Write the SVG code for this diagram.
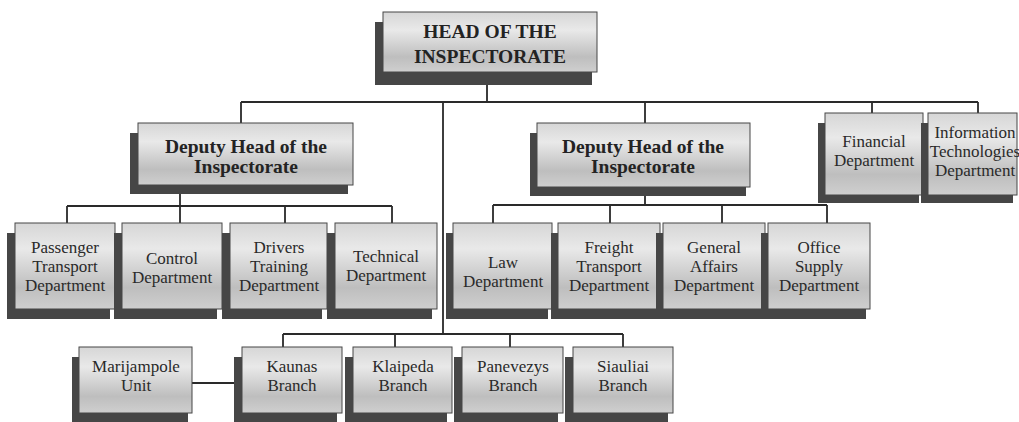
<svg xmlns="http://www.w3.org/2000/svg" width="1019" height="422" viewBox="0 0 1019 422">
<defs>
<linearGradient id="g" x1="0" y1="0" x2="0" y2="1">
<stop offset="0" stop-color="#d6d6d6"/>
<stop offset="0.3" stop-color="#e9e9e9"/>
<stop offset="0.75" stop-color="#bebebe"/>
<stop offset="1" stop-color="#cfcfcf"/>
</linearGradient>
</defs>
<style>
.sh{fill:#464646}
.bx{fill:url(#g);stroke:#474747;stroke-width:1}
.t{font-family:"Liberation Serif","Times New Roman",serif;font-size:17px;fill:#2a2a2a;text-anchor:middle}
.b{font-family:"Liberation Serif","Times New Roman",serif;font-size:19.5px;font-weight:bold;fill:#232323;text-anchor:middle}
.c{fill:none;stroke:#2a2a2a;stroke-width:1.8}
</style>
<rect width="1019" height="422" fill="#ffffff"/>
<g id="connectors">
<path class="c" d="M487 84V102M241 102H978M241 102V123M645 102V123M872 102V113M978 102V113M443 102V334"/>
<path class="c" d="M180 194V206M67 206H392M67 206V223M180 206V223M285 206V223M392 206V223"/>
<path class="c" d="M645 196V205M493 205H827M493 205V223M610 205V223M722 205V223M827 205V223"/>
<path class="c" d="M283 334H623M283 334V347M395 334V347M510 334V347M623 334V347M192 383H242"/>
</g>
<g id="head"><rect class="sh" x="375" y="22" width="217" height="63"/><rect class="bx" x="383" y="12" width="214" height="60"/><text class="b" x="490" y="38">HEAD OF THE</text><text class="b" x="490" y="63">INSPECTORATE</text></g>
<g id="deputy1"><rect class="sh" x="130" y="133" width="218" height="61"/><rect class="bx" x="138" y="123" width="215" height="62"/><text class="b" x="246" y="153">Deputy Head of the</text><text class="b" x="246" y="173">Inspectorate</text></g>
<g id="deputy2"><rect class="sh" x="530" y="133" width="216" height="63"/><rect class="bx" x="537" y="123" width="213" height="64"/><text class="b" x="643" y="153">Deputy Head of the</text><text class="b" x="643" y="173">Inspectorate</text></g>
<g id="financial"><rect class="sh" x="818" y="123" width="101" height="80"/><rect class="bx" x="825" y="113" width="98" height="82"/><text class="t" x="874" y="147">Financial</text><text class="t" x="874" y="166">Department</text></g>
<g id="it"><rect class="sh" x="921" y="123" width="92" height="80"/><rect class="bx" x="928" y="113" width="89" height="82"/><text class="t" x="975" y="138">Information</text><text class="t" x="975" y="157">Technologies</text><text class="t" x="975" y="176">Department</text></g>
<g id="passenger"><rect class="sh" x="7" y="233" width="103" height="86"/><rect class="bx" x="15" y="223" width="100" height="86"/><text class="t" x="65" y="253">Passenger</text><text class="t" x="65" y="272">Transport</text><text class="t" x="65" y="291">Department</text></g>
<g id="control"><rect class="sh" x="114" y="233" width="103" height="86"/><rect class="bx" x="122" y="223" width="100" height="86"/><text class="t" x="172" y="264">Control</text><text class="t" x="172" y="283">Department</text></g>
<g id="drivers"><rect class="sh" x="222" y="233" width="100" height="86"/><rect class="bx" x="230" y="223" width="97" height="86"/><text class="t" x="279" y="253">Drivers</text><text class="t" x="279" y="272">Training</text><text class="t" x="279" y="291">Department</text></g>
<g id="technical"><rect class="sh" x="327" y="233" width="105" height="86"/><rect class="bx" x="335" y="223" width="102" height="86"/><text class="t" x="386" y="262">Technical</text><text class="t" x="386" y="281">Department</text></g>
<g id="law"><rect class="sh" x="446" y="233" width="102" height="86"/><rect class="bx" x="453" y="223" width="99" height="86"/><text class="t" x="503" y="268">Law</text><text class="t" x="503" y="287">Department</text></g>
<g id="freight"><rect class="sh" x="551" y="233" width="105" height="86"/><rect class="bx" x="558" y="223" width="102" height="86"/><text class="t" x="609" y="253">Freight</text><text class="t" x="609" y="272">Transport</text><text class="t" x="609" y="291">Department</text></g>
<g id="general"><rect class="sh" x="656" y="233" width="105" height="86"/><rect class="bx" x="663" y="223" width="102" height="86"/><text class="t" x="714" y="253">General</text><text class="t" x="714" y="272">Affairs</text><text class="t" x="714" y="291">Department</text></g>
<g id="office"><rect class="sh" x="761" y="233" width="105" height="86"/><rect class="bx" x="768" y="223" width="102" height="86"/><text class="t" x="819" y="253">Office</text><text class="t" x="819" y="272">Supply</text><text class="t" x="819" y="291">Department</text></g>
<g id="marijampole"><rect class="sh" x="72" y="357" width="116" height="66"/><rect class="bx" x="79" y="347" width="113" height="66"/><text class="t" x="136" y="372">Marijampole</text><text class="t" x="136" y="391">Unit</text></g>
<g id="kaunas"><rect class="sh" x="234" y="357" width="103" height="66"/><rect class="bx" x="242" y="347" width="100" height="66"/><text class="t" x="292" y="372">Kaunas</text><text class="t" x="292" y="391">Branch</text></g>
<g id="klaipeda"><rect class="sh" x="345" y="357" width="102" height="66"/><rect class="bx" x="353" y="347" width="99" height="66"/><text class="t" x="403" y="372">Klaipeda</text><text class="t" x="403" y="391">Branch</text></g>
<g id="panevezys"><rect class="sh" x="454" y="357" width="104" height="66"/><rect class="bx" x="462" y="347" width="101" height="66"/><text class="t" x="513" y="372">Panevezys</text><text class="t" x="513" y="391">Branch</text></g>
<g id="siauliai"><rect class="sh" x="565" y="357" width="103" height="66"/><rect class="bx" x="573" y="347" width="100" height="66"/><text class="t" x="623" y="372">Siauliai</text><text class="t" x="623" y="391">Branch</text></g>
</svg>
